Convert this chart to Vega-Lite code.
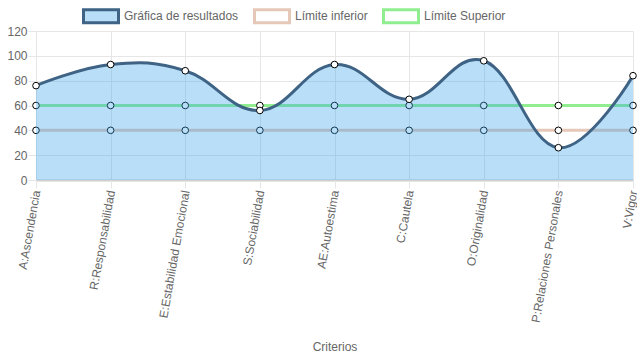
{
  "$schema": "https://vega.github.io/schema/vega-lite/v6.json",
  "autosize": {"type": "none"},
  "width": 597,
  "height": 149,
  "padding": {"left": 36, "top": 31, "right": 4, "bottom": 179},
  "background": "#ffffff",
  "config": {
    "font": "Liberation Sans",
    "view": {"stroke": null},
    "axis": {
      "labelFont": "Liberation Sans",
      "labelFontSize": 12,
      "labelColor": "#666666",
      "titleFont": "Liberation Sans",
      "titleFontSize": 12,
      "titleFontWeight": "normal",
      "titleColor": "#666666",
      "gridColor": "#e6e6e6",
      "tickColor": "#e6e6e6",
      "domain": false,
      "tickSize": 8
    }
  },
  "data": {
    "values": [
      {"criterio": "A:Ascendencia", "serie": "Gráfica de resultados", "valor": 76},
      {"criterio": "R:Responsabilidad", "serie": "Gráfica de resultados", "valor": 93},
      {"criterio": "E:Estabilidad Emocional", "serie": "Gráfica de resultados", "valor": 88},
      {"criterio": "S:Sociabilidad", "serie": "Gráfica de resultados", "valor": 56},
      {"criterio": "AE:Autoestima", "serie": "Gráfica de resultados", "valor": 93},
      {"criterio": "C:Cautela", "serie": "Gráfica de resultados", "valor": 65},
      {"criterio": "O:Originalidad", "serie": "Gráfica de resultados", "valor": 96},
      {"criterio": "P:Relaciones Personales", "serie": "Gráfica de resultados", "valor": 26},
      {"criterio": "V:Vigor", "serie": "Gráfica de resultados", "valor": 84},
      {"criterio": "A:Ascendencia", "serie": "Límite inferior", "valor": 40},
      {"criterio": "R:Responsabilidad", "serie": "Límite inferior", "valor": 40},
      {"criterio": "E:Estabilidad Emocional", "serie": "Límite inferior", "valor": 40},
      {"criterio": "S:Sociabilidad", "serie": "Límite inferior", "valor": 40},
      {"criterio": "AE:Autoestima", "serie": "Límite inferior", "valor": 40},
      {"criterio": "C:Cautela", "serie": "Límite inferior", "valor": 40},
      {"criterio": "O:Originalidad", "serie": "Límite inferior", "valor": 40},
      {"criterio": "P:Relaciones Personales", "serie": "Límite inferior", "valor": 40},
      {"criterio": "V:Vigor", "serie": "Límite inferior", "valor": 40},
      {"criterio": "A:Ascendencia", "serie": "Límite Superior", "valor": 60},
      {"criterio": "R:Responsabilidad", "serie": "Límite Superior", "valor": 60},
      {"criterio": "E:Estabilidad Emocional", "serie": "Límite Superior", "valor": 60},
      {"criterio": "S:Sociabilidad", "serie": "Límite Superior", "valor": 60},
      {"criterio": "AE:Autoestima", "serie": "Límite Superior", "valor": 60},
      {"criterio": "C:Cautela", "serie": "Límite Superior", "valor": 60},
      {"criterio": "O:Originalidad", "serie": "Límite Superior", "valor": 60},
      {"criterio": "P:Relaciones Personales", "serie": "Límite Superior", "valor": 60},
      {"criterio": "V:Vigor", "serie": "Límite Superior", "valor": 60}
    ]
  },
  "encoding": {
    "x": {
      "field": "criterio",
      "type": "nominal",
      "sort": null,
      "scale": {"type": "point", "padding": 0},
      "axis": {
        "title": "Criterios",
        "labelAngle": -80,
        "labelAlign": "right",
        "labelBaseline": "middle",
        "labelPadding": 2,
        "titlePadding": 18,
        "grid": true,
        "labelOverlap": false
      }
    },
    "y": {
      "field": "valor",
      "type": "quantitative",
      "scale": {"domain": [0, 120], "nice": false},
      "axis": {
        "title": null,
        "values": [0, 20, 40, 60, 80, 100, 120],
        "labelPadding": 1,
        "grid": true,
        "gridColor": {"condition": {"test": "datum.value === 0", "value": "#cfcfcf"}, "value": "#e6e6e6"},
        "gridWidth": {"condition": {"test": "datum.value === 0", "value": 2}, "value": 1}
      }
    }
  },
  "layer": [
    {
      "transform": [{"filter": "datum.serie !== 'Gráfica de resultados'"}],
      "mark": {"type": "line", "strokeWidth": 3},
      "encoding": {
        "color": {
          "field": "serie",
          "type": "nominal",
          "scale": {
            "domain": ["Gráfica de resultados", "Límite inferior", "Límite Superior"],
            "range": ["#3e6385", "#e6c8b8", "#90ee90"]
          },
          "legend": {
            "orient": "none",
            "legendX": 46,
            "legendY": -34,
            "direction": "horizontal",
            "title": null,
            "padding": 0,
            "symbolType": "M-1,-0.37H1V0.37H-1Z",
            "symbolSize": 1225,
            "symbolStrokeWidth": 3,
            "symbolOpacity": 1,
            "labelFont": "Liberation Sans",
            "labelFontSize": 12,
            "labelColor": "#666666",
            "labelOffset": 4,
            "columnPadding": 9,
            "encode": {
              "symbols": {
                "update": {
                  "fill": {"signal": "datum.value === 'Gráfica de resultados' ? '#b9def8' : '#ffffff'"},
                  "fillOpacity": {"value": 1}
                }
              }
            }
          }
        }
      }
    },
    {
      "transform": [{"filter": "datum.serie !== 'Gráfica de resultados'"}],
      "mark": {"type": "point", "filled": true, "fill": "#ffffff", "stroke": "#000000", "strokeWidth": 1, "size": 44, "opacity": 1}
    },
    {
      "transform": [{"filter": "datum.serie === 'Gráfica de resultados'"}],
      "mark": {"type": "area", "interpolate": "cardinal", "tension": -0.2, "color": "#36a2eb", "opacity": 0.35}
    },
    {
      "transform": [{"filter": "datum.serie === 'Gráfica de resultados'"}],
      "mark": {"type": "line", "interpolate": "cardinal", "tension": -0.2, "strokeWidth": 3},
      "encoding": {
        "color": {"field": "serie", "type": "nominal"}
      }
    },
    {
      "transform": [{"filter": "datum.serie === 'Gráfica de resultados'"}],
      "mark": {"type": "point", "filled": true, "fill": "#ffffff", "stroke": "#000000", "strokeWidth": 1, "size": 44, "opacity": 1}
    }
  ]
}
